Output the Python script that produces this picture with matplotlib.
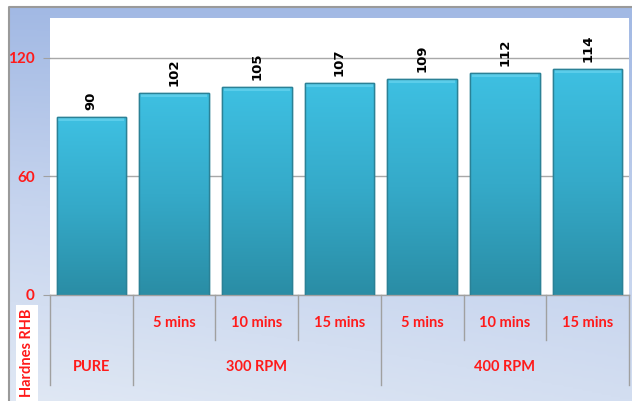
import numpy as np
import matplotlib
matplotlib.use("Agg")
import matplotlib.pyplot as plt
from matplotlib.colors import LinearSegmentedColormap
from matplotlib.patches import Rectangle

# hardness per sample
time_labels = ["", "5 mins", "10 mins", "15 mins", "5 mins", "10 mins", "15 mins"]
group_labels = ["PURE", "300 RPM", "400 RPM"]
group_sizes = [1, 3, 3]
hardness = [90, 102, 105, 107, 109, 112, 114]
y_ticks = [0, 60, 120]

RED = "#ff1a1a"
LABEL_FONT = ["Lato", "DejaVu Sans"]
W, H = 632, 401

fig = plt.figure(figsize=(W / 100, H / 100), dpi=100)

# outer panel: soft blue gradient with a grey frame
bg = fig.add_axes([0, 0, 1, 1], zorder=-10)
bg.set_xlim(0, W)
bg.set_ylim(H, 0)
bg.axis("off")
yy, xx = np.mgrid[0:1:200j, 0:1:200j]
shade = np.clip(0.75 * yy + 0.25 * (1 - xx) * yy, 0, 1)
bg_cmap = LinearSegmentedColormap.from_list("panel", ["#a2b9e4", "#c6d4ee", "#e0e8f4"])
bg.imshow(shade, cmap=bg_cmap, extent=(9, W, H, 7), aspect="auto", zorder=0)
bg.plot([9, 9, W], [H, 7, 7], color="#9a9a9a", lw=1.5, zorder=1)

# y-axis title in its white box
fig.text(27 / W, 1 - 353 / H, "Hardnes RHB", rotation=90, color=RED,
         fontsize=10.5, fontweight="bold", family=LABEL_FONT,
         ha="center", va="center",
         bbox=dict(boxstyle="square,pad=0.25", fc="white", ec="none"))

left, right, top, bottom = 50, 629, 18, 295
ax = fig.add_axes([left / W, 1 - bottom / H, (right - left) / W, (bottom - top) / H])
ax.set_facecolor("white")
ax.set_xlim(-0.5, len(hardness) - 0.5)
ax.set_ylim(0, 140)

for s in ["top", "right", "left"]:
    ax.spines[s].set_visible(False)
ax.spines["bottom"].set_color("#a0a0a0")
ax.spines["bottom"].set_linewidth(1.0)

ax.set_yticks(y_ticks)
ax.set_yticklabels([str(t) for t in y_ticks], color=RED, fontsize=11,
                   fontweight="bold", family=LABEL_FONT)
ax.tick_params(axis="y", length=5, color="#a0a0a0", pad=6)
ax.set_xticks([])
ax.yaxis.grid(True, color="#a8a8a8", lw=1.0)
ax.set_axisbelow(True)

x = np.arange(len(hardness))
bars = ax.bar(x, hardness, width=0.84, color="#38b3d6", edgecolor="#2b8196",
              linewidth=1.0, zorder=2)

bar_cmap = LinearSegmentedColormap.from_list("bar", ["#2a8da5", "#35aac9", "#3ec0e2"])
grad = np.linspace(0, 1, 256).reshape(-1, 1)
for b, v in zip(bars, hardness):
    x0, w = b.get_x(), b.get_width()
    im = ax.imshow(grad, cmap=bar_cmap, origin="lower", aspect="auto",
                   extent=(x0, x0 + w, 0, v), zorder=2.5)
    im.set_clip_path(b)
    # bevelled top edge
    ax.add_patch(Rectangle((x0 + 0.02, v - 2.0), w - 0.04, 2.0, fc="#68d4ef",
                           ec="none", alpha=0.7, zorder=2.6))
    ax.add_patch(Rectangle((x0, 0), w, v, fc="none", ec="#2b8196", lw=1.0, zorder=2.7))
    ax.annotate(str(v), (b.get_x() + w / 2, v), xytext=(0, 5),
                textcoords="offset points", rotation=90, ha="center", va="bottom",
                fontsize=9.5, fontweight="bold", color="black", zorder=3)

# two-level category axis underneath the plot
trans = ax.get_xaxis_transform()
h_ax = bottom - top
row1 = -(323 - bottom) / h_ax
row2 = -(367 - bottom) / h_ax
short_end = -(340 - bottom) / h_ax
long_end = -(385 - bottom) / h_ax

for i, lab in enumerate(time_labels):
    if lab:
        ax.text(i, row1, lab, transform=trans, ha="center", va="center",
                color=RED, fontsize=10.5, fontweight="bold", family=LABEL_FONT)

edges = np.cumsum([0] + group_sizes) - 0.5
for k, lab in enumerate(group_labels):
    mid = (edges[k] + edges[k + 1]) / 2
    ax.text(mid, row2, lab, transform=trans, ha="center", va="center",
            color=RED, fontsize=10.5, fontweight="bold", family=LABEL_FONT)

for pos in np.arange(len(hardness) + 1) - 0.5:
    end = long_end if pos in edges else short_end
    ax.plot([pos, pos], [0, end], transform=trans, color="#a0a0a0", lw=1.0,
            clip_on=False)

fig.savefig("out.png", dpi=100)
